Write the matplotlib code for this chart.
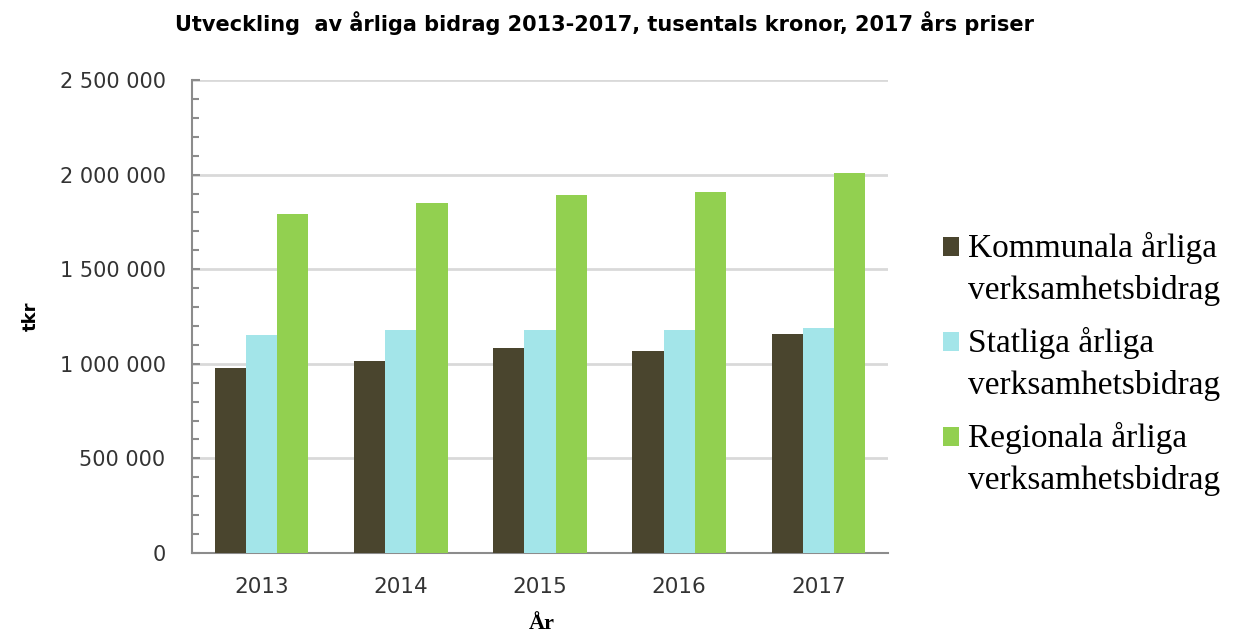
import matplotlib.pyplot as plt
import numpy as np
from matplotlib.ticker import MultipleLocator, FuncFormatter
from matplotlib.legend_handler import HandlerPatch
from matplotlib.patches import Rectangle

years = ["2013", "2014", "2015", "2016", "2017"]
kommunala = [978000, 1015000, 1083000, 1068000, 1157000]
statliga = [1152000, 1179000, 1179000, 1179000, 1189000]
regionala = [1792000, 1850000, 1892000, 1908000, 2008000]

labels = ["Kommunala årliga\nverksamhetsbidrag",
          "Statliga årliga\nverksamhetsbidrag",
          "Regionala årliga\nverksamhetsbidrag"]
colors = ["#4A452E", "#A3E5E9", "#92D050"]


# legend square next to the first line of a two-line label
class FirstLineHandler(HandlerPatch):
    def create_artists(self, legend, orig_handle, xdescent, ydescent,
                       width, height, fontsize, trans):
        p = Rectangle((-xdescent, -ydescent + 0.66 * fontsize), width, height,
                      facecolor=orig_handle.get_facecolor(), transform=trans)
        return [p]


fig = plt.figure(figsize=(12.34, 6.38), dpi=100)
ax = fig.add_axes([0.1556, 0.1332, 0.5640, 0.7414])

x = np.arange(len(years))
w = 0.224
bars = []
for i, vals in enumerate([kommunala, statliga, regionala]):
    b = ax.bar(x + (i - 1) * w, vals, w, color=colors[i], label=labels[i], zorder=3)
    bars.append(b)

ax.set_xlim(-0.5, 4.5)
ax.set_ylim(0, 2500000)
ax.set_xticks(x)
ax.set_xticklabels(years)
ax.yaxis.set_major_locator(MultipleLocator(500000))
ax.yaxis.set_minor_locator(MultipleLocator(100000))
ax.yaxis.set_major_formatter(FuncFormatter(lambda v, p: f"{int(v):,}".replace(",", " ")))
ax.grid(axis="y", color="#D9D9D9", linewidth=2, zorder=0)

for s in ["top", "right"]:
    ax.spines[s].set_visible(False)
for s in ["left", "bottom"]:
    ax.spines[s].set_color("#8C8C8C")
    ax.spines[s].set_linewidth(1.5)

ax.tick_params(axis="y", which="both", direction="in", color="#8C8C8C", width=1.5,
               labelsize=15, labelcolor="#333333", pad=19)
ax.tick_params(axis="y", which="major", length=6)
ax.tick_params(axis="y", which="minor", length=5)
ax.tick_params(axis="x", length=0, labelsize=15.5, labelcolor="#333333", pad=17)

ax.set_ylabel("tkr", fontsize=13, fontweight="bold")
ax.yaxis.set_label_coords(-0.219, 0.50)
ax.set_xlabel("År", fontsize=16, fontweight="bold", family="Liberation Serif")
ax.xaxis.set_label_coords(0.502, -0.128)

fig.suptitle("Utveckling  av årliga bidrag 2013-2017, tusentals kronor, 2017 års priser",
             x=0.49, y=0.983, fontsize=15, fontweight="bold")

leg = fig.legend(handles=[b.patches[0] for b in bars], labels=labels,
                 loc="upper left", bbox_to_anchor=(0.764, 0.636), frameon=False,
                 prop={"family": "Liberation Serif", "size": 24},
                 handlelength=0.5, handleheight=0.5, handletextpad=0.25,
                 labelspacing=0.65, borderpad=0, borderaxespad=0,
                 handler_map={Rectangle: FirstLineHandler()})
for t in leg.get_texts():
    t.set_linespacing(1.43)

fig.savefig("out.png", dpi=100)
